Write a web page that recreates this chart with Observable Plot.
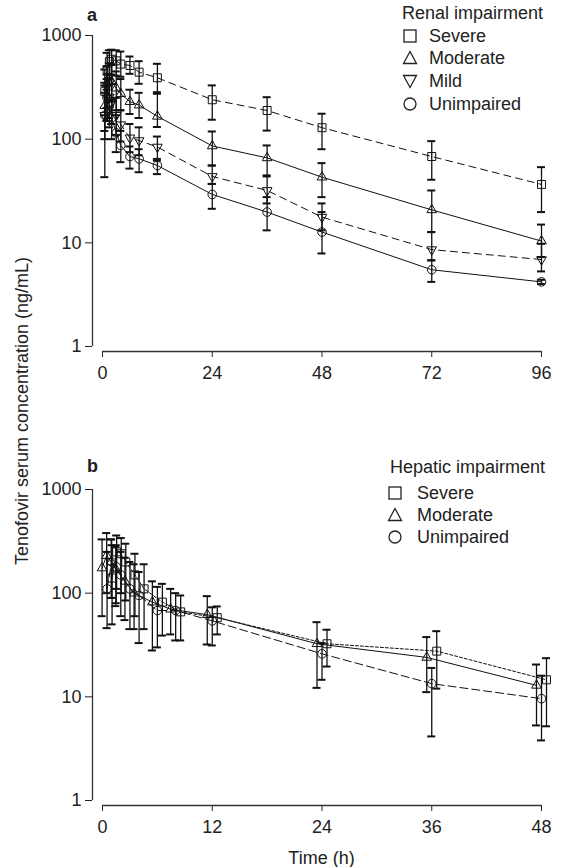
<!DOCTYPE html>
<html><head><meta charset="utf-8">
<script src="https://cdn.jsdelivr.net/npm/d3@7"></script>
<script src="https://cdn.jsdelivr.net/npm/@observablehq/plot@0.6"></script>
<style>
body{margin:0;background:#fff;font-family:"Liberation Sans",Arial,Helvetica,sans-serif;color:#222;}
#wrap{position:relative;width:563px;height:867px;overflow:hidden;background:#fff;}
.abs{position:absolute;font-size:18px;line-height:22px;white-space:nowrap;}
.plot{position:absolute;left:0;}
</style></head><body><div id="wrap"></div>
<script>
// ---------- data: panel a (renal impairment) ----------
const renalTimes = [0.5, 1, 1.5, 2, 3, 4, 6, 8, 12, 24, 36, 48, 72, 96];
const renalSevere    = [290, 470, 560, 590, 570, 530, 514, 443, 391, 240, 189, 129, 68, 36.6];
const renalSevereLo  = [170, 300, 390, 420, 410, 400, 427, 342, 274, 154, 121, 80, 40.6, 19.8];
const renalSevereHi  = [470, 680, 720, 730, 720, 700, 627, 565, 533, 330, 254, 176, 95.7, 53.7];
const renalModerate   = [210, 340, 380, 360, 310, 274, 230, 213, 166, 86, 66, 43, 20.8, 10.4];
const renalModerateLo = [120, 200, 240, 230, 190, 190, 175, 160, 131, 55.7, 43.7, 27.6, 12.7, 7.3];
const renalModerateHi = [330, 500, 540, 520, 450, 380, 300, 280, 284, 118.6, 87, 58.7, 32, 15];
const renalMild   = [170, 250, 255, 225, 170, 138, 103, 97, 84, 43.7, 32, 17.7, 8.6, 6.9];
const renalMildLo = [100, 150, 160, 140, 110, 95, 75, 70, 64.5, 37, 24, 13.2, 6.76, 5.3];
const renalMildHi = [280, 380, 380, 340, 250, 190, 140, 130, 106, 55.7, 44.7, 24, 12.7, 9.8];
const renalUnimpaired   = [170, 250, 210, 160, 115, 87, 68, 64.6, 55.7, 29.3, 19.8, 12.7, 5.5, 4.2];
const renalUnimpairedLo = [43, 150, 130, 100, 75, 60, 52, 48, 46, 21.3, 13.2, 7.9, 4.2, 4.0];
const renalUnimpairedHi = [350, 420, 330, 240, 170, 120, 85, 80, 62, 37, 27.6, 19.8, 6.8, 4.4];

// ---------- data: panel b (hepatic impairment) ----------
const hepaticTimes = [0.5, 1, 1.5, 2, 3, 4, 6, 8, 12, 24, 36, 48];
const hepaticSevere   = [140, 250, 240, 200, 150, 110, 82, 66, 58, 32.5, 27.6, 14.6];
const hepaticSevereLo = [50, 110, 100, 85, 60, 45, 39, 35, 40, 19.6, 12, 5.2];
const hepaticSevereHi = [290, 360, 340, 300, 240, 190, 123, 95, 74.5, 44.4, 43, 23.6];
const hepaticModerate   = [175, 230, 200, 170, 130, 100, 82, 70, 62, 32.5, 24, 12.9];
const hepaticModerateLo = [60, 100, 90, 75, 55, 45, 28, 40, 32, 12.2, 11.1, 5.3];
const hepaticModerateHi = [330, 380, 330, 280, 220, 190, 130, 110, 93.6, 52.5, 37.7, 20.5];
const hepaticUnimpaired   = [110, 200, 180, 150, 110, 95, 68, 68, 54, 26, 13.4, 9.6];
const hepaticUnimpairedLo = [46, 90, 80, 60, 45, 33, 30, 35, 31.3, 14.6, 4.15, 3.8];
const hepaticUnimpairedHi = [250, 330, 290, 250, 200, 160, 115, 100, 73, 33, 19, 16];

// ---------- ticks & labels ----------
const yTicks = [1, 10, 100, 1000];
const renalXTicks = [0, 24, 48, 72, 96];
const hepaticXTicks = [0, 12, 24, 36, 48];
const renalLegendTitle = "Renal impairment";
const renalLegendLabels = ["Severe", "Moderate", "Mild", "Unimpaired"];
const hepaticLegendTitle = "Hepatic impairment";
const hepaticLegendLabels = ["Severe", "Moderate", "Unimpaired"];
const yTitle = "Tenofovir serum concentration (ng/mL)";
const xTitle = "Time (h)";

// ---------- helpers ----------
const INK = "#111";
const sqrt3 = Math.sqrt(3);
const triangleDown = {
  draw(ctx, size) {
    const y = -Math.sqrt(size / (sqrt3 * 3));
    ctx.moveTo(0, -y * 2);
    ctx.lineTo(-sqrt3 * y, y);
    ctx.lineTo(sqrt3 * y, y);
    ctx.closePath();
  }
};
function rows(times, v, lo, hi) {
  return times.map((t, i) => ({t, v: v[i], lo: lo[i], hi: hi[i]}));
}
function seriesMarks(data, {symbol, r, dash = null, dx = 0}) {
  return [
    Plot.ruleX(data, {x: "t", y1: "lo", y2: "hi", stroke: INK, strokeWidth: 1.3, dx}),
    Plot.ruleY(data, {x1: "t", x2: "t", y: "lo", insetLeft: -4, insetRight: -4, stroke: INK, strokeWidth: 2, dx}),
    Plot.ruleY(data, {x1: "t", x2: "t", y: "hi", insetLeft: -4, insetRight: -4, stroke: INK, strokeWidth: 2, dx}),
    Plot.line(data, {x: "t", y: "v", stroke: INK, strokeWidth: 1, strokeDasharray: dash, dx}),
    Plot.dot(data, {x: "t", y: "v", symbol, r, stroke: INK, fill: "none", strokeWidth: 1, dx})
  ];
}
const Y_MIN = 0.895;
function panel(xDomain, xTicks, seriesList) {
  return Plot.plot({
    width: 563, height: 386,
    marginLeft: 92, marginRight: 22, marginTop: 35, marginBottom: 35,
    style: {fontFamily: "'Liberation Sans', Arial, sans-serif", fontSize: "18px", color: "#222", background: "transparent", overflow: "visible"},
    x: {domain: xDomain, ticks: xTicks, tickSize: 6, tickPadding: 9, tickFormat: d => String(d), label: null},
    y: {type: "log", domain: [Y_MIN, 1000], ticks: yTicks, tickSize: 7, tickPadding: 4, tickFormat: d => String(d), label: null},
    marks: [
      Plot.ruleX([xDomain[0]], {y1: yTicks[0], y2: yTicks[yTicks.length - 1], stroke: "#333", strokeWidth: 1.3}),
      Plot.ruleY([Y_MIN], {x1: xTicks[0], x2: xTicks[xTicks.length - 1], stroke: "#333", strokeWidth: 1.3}),
      ...seriesList.flat()
    ]
  });
}

const wrap = document.getElementById("wrap");

// panel a
const plotA = panel([-2.19, 96], renalXTicks, [
  seriesMarks(rows(renalTimes, renalUnimpaired, renalUnimpairedLo, renalUnimpairedHi), {symbol: "circle", r: 4.3}),
  seriesMarks(rows(renalTimes, renalMild, renalMildLo, renalMildHi), {symbol: triangleDown, r: 3.6, dash: "7,5"}),
  seriesMarks(rows(renalTimes, renalModerate, renalModerateLo, renalModerateHi), {symbol: "triangle", r: 3.6}),
  seriesMarks(rows(renalTimes, renalSevere, renalSevereLo, renalSevereHi), {symbol: "square", r: 4.5, dash: "7,5"})
]);
plotA.classList.add("plot");
plotA.style.top = "0px";
wrap.appendChild(plotA);

// panel b
const plotB = panel([-1.094, 48], hepaticXTicks, [
  seriesMarks(rows(hepaticTimes, hepaticUnimpaired, hepaticUnimpairedLo, hepaticUnimpairedHi), {symbol: "circle", r: 4.3, dash: "8,4"}),
  seriesMarks(rows(hepaticTimes, hepaticModerate, hepaticModerateLo, hepaticModerateHi), {symbol: "triangle", r: 3.6, dx: -5}),
  seriesMarks(rows(hepaticTimes, hepaticSevere, hepaticSevereLo, hepaticSevereHi), {symbol: "square", r: 4.5, dash: "3,2", dx: 5})
]);
plotB.classList.add("plot");
plotB.style.top = "454px";
wrap.appendChild(plotB);

// text helpers
function addText(txt, left, centerY, extra = "") {
  const d = document.createElement("div");
  d.className = "abs";
  d.textContent = txt;
  d.style.cssText += `left:${left}px;top:${centerY - 11}px;${extra}`;
  wrap.appendChild(d);
  return d;
}
function symbolSvg(kind) {
  let shape;
  if (kind === "square") shape = `<rect x="-6" y="-6" width="12" height="12"/>`;
  else if (kind === "triangle") shape = `<path d="M0,-6.5L6.5,5.5L-6.5,5.5Z"/>`;
  else if (kind === "triangleDown") shape = `<path d="M0,6.5L6.5,-5.5L-6.5,-5.5Z"/>`;
  else shape = `<circle r="6"/>`;
  return `<svg width="16" height="16" viewBox="-8 -8 16 16" style="display:block"><g fill="none" stroke="#222" stroke-width="1.3">${shape}</g></svg>`;
}
function addLegend(title, labels, kinds, titleLeft, titleY, rowYs, symX, textLeft) {
  addText(title, titleLeft, titleY);
  labels.forEach((lab, i) => {
    const s = document.createElement("div");
    s.style.cssText = `position:absolute;left:${symX - 8}px;top:${rowYs[i] - 8}px;`;
    s.innerHTML = symbolSvg(kinds[i]);
    wrap.appendChild(s);
    addText(lab, textLeft, rowYs[i]);
  });
}
addLegend(renalLegendTitle, renalLegendLabels, ["square", "triangle", "triangleDown", "circle"], 402, 13, [35.5, 58.2, 81, 103.5], 410, 429);
addLegend(hepaticLegendTitle, hepaticLegendLabels, ["square", "triangle", "circle"], 390, 466.7, [492.7, 515, 537.3], 395, 417);

// panel letters
addText("a", 87, 15, "font-weight:bold;");
addText("b", 87, 466, "font-weight:bold;");

// axis titles
addText(xTitle, 0, 858, "width:643px;text-align:center;");
const yt = addText(yTitle, -178, 411, "width:400px;text-align:center;transform:rotate(-90deg);transform-origin:50% 50%;");
yt.style.left = (22 - 200) + "px";
</script></body></html>
